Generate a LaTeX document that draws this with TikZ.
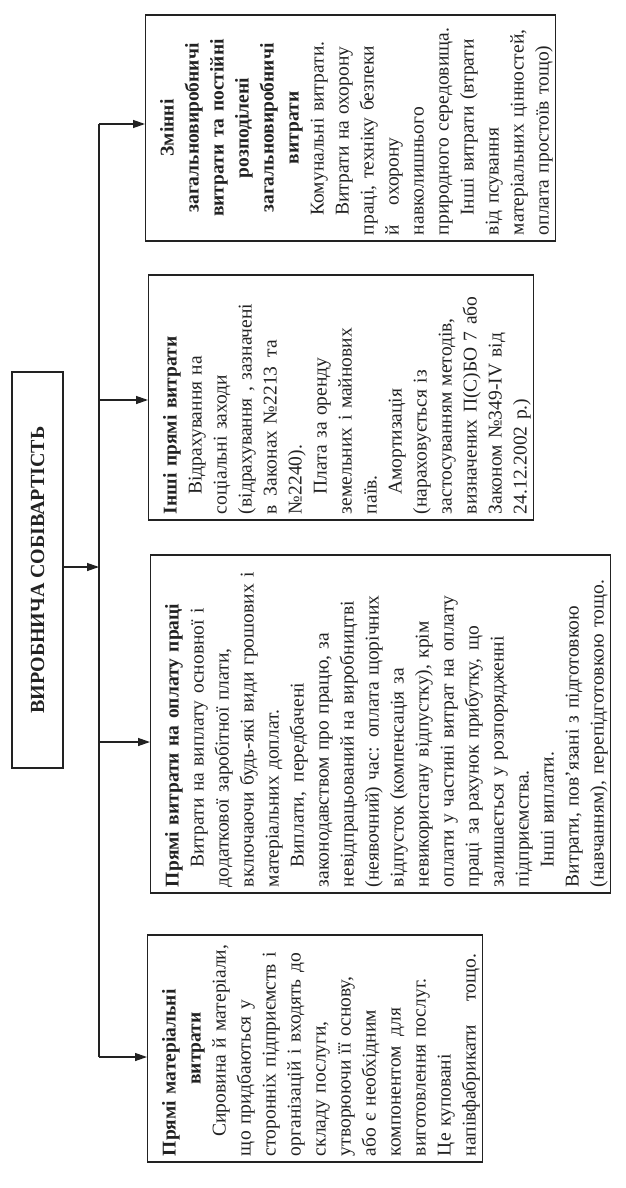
\documentclass[tikz,border=0pt]{standalone}
\usepackage{fontspec}
\setmainfont{Liberation Serif}
\usetikzlibrary{arrows.meta}
\newcommand\lnC[1]{\par\hbox to\linewidth{\hss#1\hss}}
\newcommand\lnL[1]{\par\hbox to\linewidth{#1\hss}}
\newcommand\lnI[1]{\par\hbox to\linewidth{\hspace*{1em}#1\hss}}
\newcommand\lnJ[1]{\par\hbox to\linewidth{#1}}
\newcommand\lnIJ[1]{\par\hbox to\linewidth{\hspace*{1em}#1}}
\definecolor{ink}{HTML}{222222}
\tikzset{
  box/.style={draw=ink, line width=1.3pt, rotate=90, anchor=north,
    inner xsep=6pt, inner ysep=3pt, align=left, text=ink,
    font=\fontsize{19.5}{25}\selectfont},
  rootbox/.style={draw=ink, line width=1.3pt, rotate=90, inner sep=0pt,
    text=ink, font=\fontsize{20}{24}\selectfont\bfseries,
    minimum width=396pt, minimum height=51pt},
  conn/.style={draw=ink, line width=1.3pt},
  arr/.style={conn, -{Triangle[length=12pt,width=8pt]}}
}
\begin{document}
\begin{tikzpicture}[x=1pt,y=-1pt]
\useasboundingbox[fill=white] (0,0) rectangle (625,1188);

\node[rootbox] (root) at (37.5,570) {ВИРОБНИЧА СОБІВАРТІСТЬ};

\node[box, text width=214pt, minimum height=405pt] (b1) at (145,128) {%
\lnC{\bfseries Змінні}
\lnC{\bfseries загальновиробничі}
\lnC{\bfseries витрати та постійні}
\lnC{\bfseries розподілені}
\lnC{\bfseries загальновиробничі}
\lnC{\bfseries витрати}
\lnI{Комунальні витрати.}
\lnIJ{Витрати на охорону}
\lnJ{праці, техніку безпеки}
\lnL{й\hspace{1em}охорону}
\lnL{навколишнього}
\lnL{природного середовища.}
\lnI{Інші витрати (втрати}
\lnL{від псування}
\lnL{матеріальних цінностей,}
\lnL{оплата простоїв тощо)}};

\node[box, text width=233pt, minimum height=382pt] (b2) at (148,397.5) {%
\lnL{\bfseries Інші прямі витрати}
\lnI{Відрахування на}
\lnL{соціальні заходи}
\lnL{(відрахування , зазначені}
\lnL{в\hspace{0.45em}Законах №2213\hspace{0.45em}та}
\lnL{№2240).}
\lnI{Плата за оренду}
\lnL{земельних і майнових}
\lnL{паїв.}
\lnI{Амортизація}
\lnL{(нараховується із}
\lnL{застосуванням методів,}
\lnL{визначених П(С)БО 7 або}
\lnL{Законом №349-IV від}
\lnL{24.12.2002 р.)}};

\node[box, text width=326pt, minimum height=458pt] (b3) at (150,724) {%
\lnL{\bfseries Прямі витрати на оплату праці}
\lnI{Витрати на виплату основної і}
\lnL{додаткової заробітної плати,}
\lnL{включаючи будь-які види грошових і}
\lnL{матеріальних доплат.}
\lnI{Виплати,\hspace{0.5em}передбачені}
\lnL{законодавством про працю, за}
\lnL{невідпрацьований на виробництві}
\lnL{(неявочний) час: оплата щорічних}
\lnL{відпусток (компенсація за}
\lnL{невикористану відпустку), крім}
\lnL{оплати у частині витрат на оплату}
\lnL{праці\hspace{0.4em}за рахунок прибутку,\hspace{0.4em}що}
\lnL{залишається у розпорядженні}
\lnL{підприємства.}
\lnI{Інші виплати.}
\lnL{Витрати, пов’язані з підготовкою}
\lnL{(навчанням), перепідготовкою тощо.}};

\node[box, text width=215pt, minimum height=331pt] (b4) at (147,1048.5) {%
\lnL{\bfseries Прямі матеріальні}
\lnC{\bfseries витрати}
\lnI{Сировина й матеріали,}
\lnL{що придбаються у}
\lnL{сторонніх підприємств і}
\lnL{організацій і входять до}
\lnL{складу послуги,}
\lnL{утворюючи її основу,}
\lnL{або є необхідним}
\lnL{компонентом\hspace{0.5em}для}
\lnL{виготовлення послуг.}
\lnL{Це куповані}
\lnL{напівфабрикати\hspace{1.2em}тощо.}};

\coordinate (t1) at (99,124);
\coordinate (t2) at (99,400);
\coordinate (t3) at (99,742);
\coordinate (t4) at (99,1057);
\coordinate (tr) at (99,567);

\draw[conn] (t1) -- (t4);
\draw[arr] (root.south |- tr) -- (tr);
\draw[arr] (t1) -- (t1 -| b1.north);
\draw[arr] (t2) -- (t2 -| b2.north);
\draw[arr] (t3) -- (t3 -| b3.north);
\draw[arr] (t4) -- (t4 -| b4.north);
\end{tikzpicture}
\end{document}
